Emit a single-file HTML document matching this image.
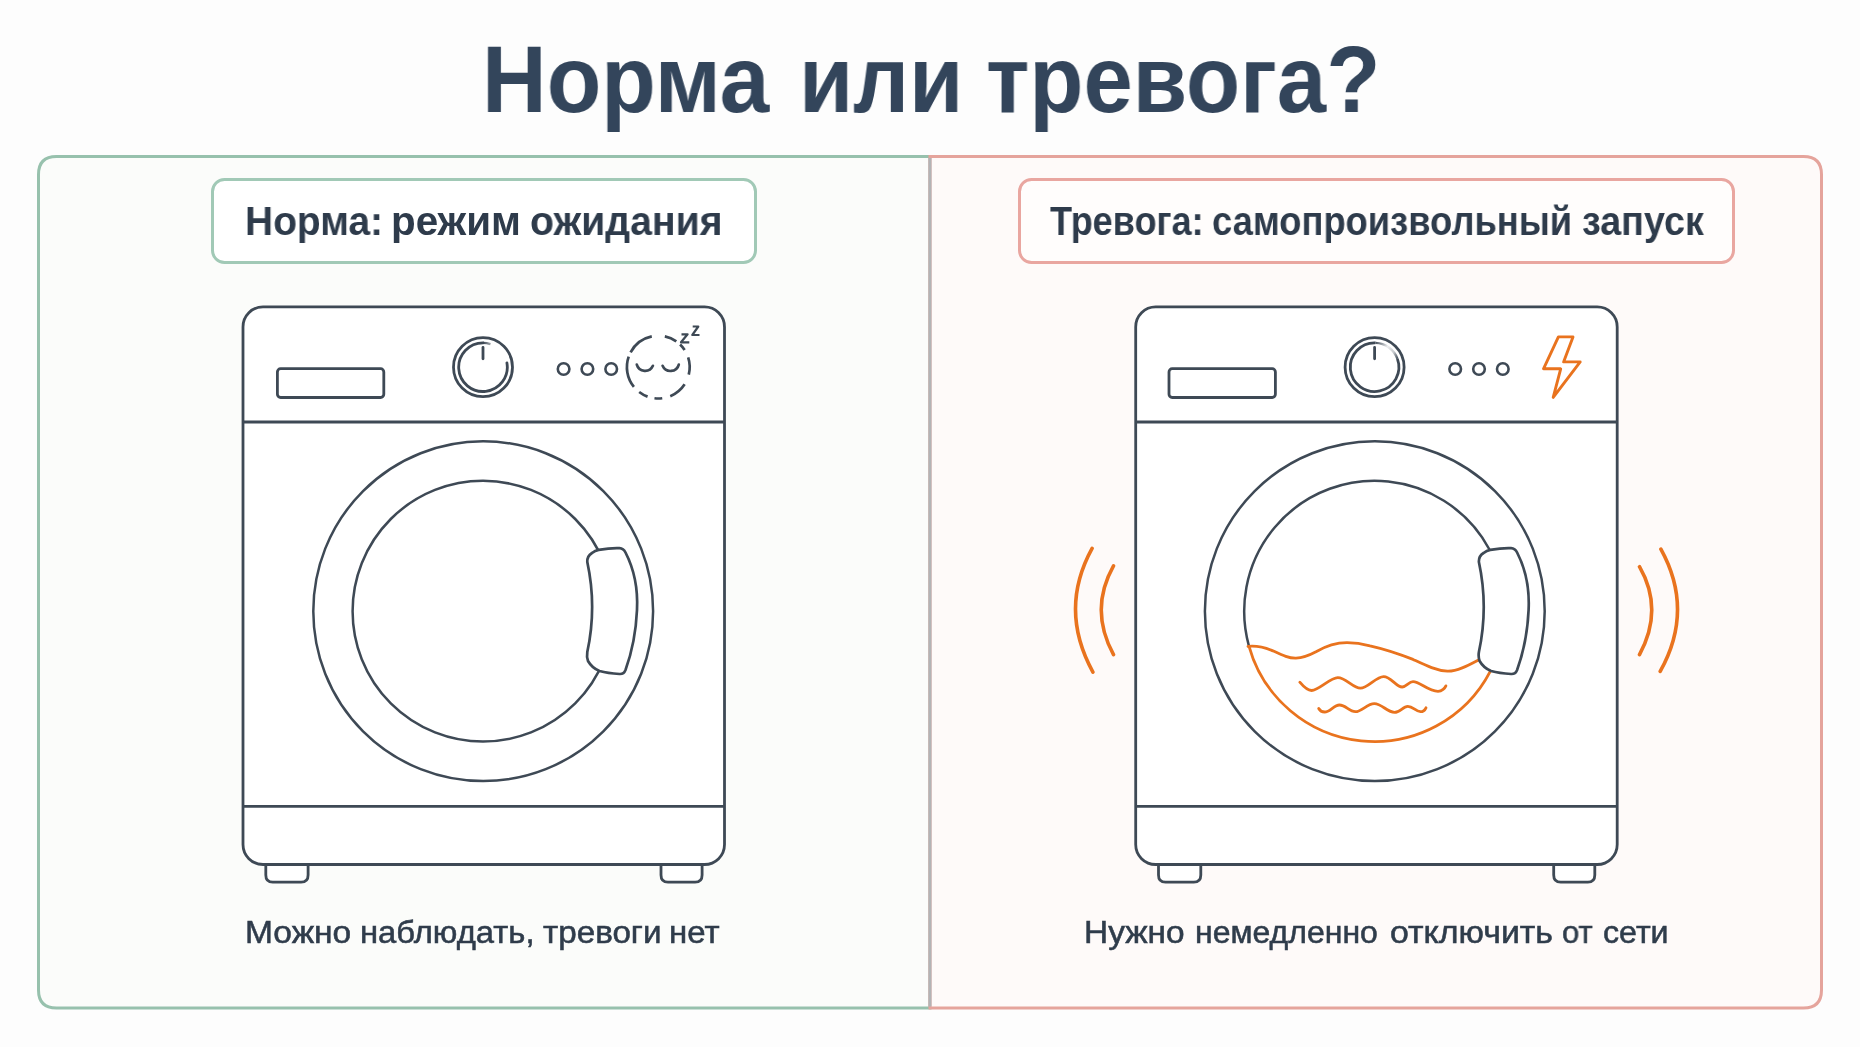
<!DOCTYPE html>
<html>
<head>
<meta charset="utf-8">
<style>
html,body{margin:0;padding:0;}
body{width:1860px;height:1047px;background:#fdfdfd;position:relative;overflow:hidden;font-family:"Liberation Sans",sans-serif;}
.abs{position:absolute;}
#title{left:0;width:1860px;top:34px;text-align:center;font-weight:700;font-size:94px;line-height:1;color:#33455b;white-space:nowrap;}
.tw{position:absolute;top:33.3px;font-weight:700;font-size:94px;line-height:1;color:#33455b;white-space:nowrap;transform-origin:0 0;will-change:transform;}
.lbl{position:absolute;top:201px;font-weight:700;font-size:40px;line-height:1;color:#2e3b4b;white-space:nowrap;transform-origin:0 0;will-change:transform;}
.cap{position:absolute;top:915.7px;font-weight:400;font-size:32px;line-height:1;color:#2f3c4b;white-space:nowrap;-webkit-text-stroke:0.55px #2f3c4b;transform-origin:0 0;will-change:transform;}
svg{position:absolute;left:0;top:0;}
</style>
</head>
<body>
<svg width="1860" height="1047" viewBox="0 0 1860 1047">
<defs>
<linearGradient id="fadeL" x1="483" y1="0" x2="498" y2="0" gradientUnits="userSpaceOnUse"><stop offset="0" stop-color="#3e4955"/><stop offset="1" stop-color="#3e4955" stop-opacity="0"/></linearGradient>
<linearGradient id="fadeR" gradientUnits="userSpaceOnUse" x1="1374.6" y1="343" x2="1397.6" y2="359"><stop offset="0" stop-color="#3e4955"/><stop offset="0.45" stop-color="#3e4955" stop-opacity="0.1"/><stop offset="0.75" stop-color="#3e4955" stop-opacity="0.3"/><stop offset="1" stop-color="#3e4955"/></linearGradient>
</defs>
<path d="M930 156.5 H56.5 Q38.5 156.5 38.5 174.5 V990 Q38.5 1008 56.5 1008 H930 Z" fill="#fbfcfa" stroke="#97c1ad" stroke-width="3"/>
<path d="M930 156.5 H1803.5 Q1821.5 156.5 1821.5 174.5 V990 Q1821.5 1008 1803.5 1008 H930 Z" fill="#fefaf9" stroke="#e5a49c" stroke-width="3"/>
<line x1="930" y1="158" x2="930" y2="1006.5" stroke="#b3b3b5" stroke-width="3"/>
<rect x="212.5" y="179.5" width="543" height="83" rx="12" fill="#ffffff" stroke="#a1c9b6" stroke-width="3"/>
<rect x="1019.5" y="179.5" width="714" height="83" rx="12" fill="#fffdfc" stroke="#e9a6a0" stroke-width="3"/>
<g transform="translate(0,0)">
<path d="M265.8 864.5 V875 Q265.8 882.2 272.8 882.2 H301.1 Q308.1 882.2 308.1 875 V864.5" fill="#ffffff" stroke="#3e4955" stroke-width="2.8"/>
<path d="M661 864.5 V875 Q661 882.2 668 882.2 H695.1 Q702.1 882.2 702.1 875 V864.5" fill="#ffffff" stroke="#3e4955" stroke-width="2.8"/>
<rect x="243.0" y="306.9" width="481.5" height="557.6" rx="20" fill="#ffffff" stroke="#3e4955" stroke-width="2.8"/>
<line x1="243" y1="422" x2="724.5" y2="422" stroke="#3e4955" stroke-width="2.8"/>
<line x1="243" y1="806.3" x2="724.5" y2="806.3" stroke="#3e4955" stroke-width="2.8"/>
</g>
<g transform="translate(0,0)">
<rect x="277.4" y="368.7" width="106.4" height="28.8" rx="3.2" fill="none" stroke="#3e4955" stroke-width="2.8"/>
<circle cx="483" cy="367.2" r="29.5" fill="none" stroke="#3e4955" stroke-width="2.8"/>
<line x1="483" y1="347.5" x2="483" y2="358.8" stroke="#3e4955" stroke-width="2.8" stroke-linecap="round"/>
<circle cx="563.6" cy="369" r="5.8" fill="none" stroke="#3e4955" stroke-width="2.6"/>
<circle cx="587.4" cy="369" r="5.8" fill="none" stroke="#3e4955" stroke-width="2.6"/>
<circle cx="611.2" cy="369" r="5.8" fill="none" stroke="#3e4955" stroke-width="2.6"/>
<circle cx="483.2" cy="611.2" r="169.9" fill="none" stroke="#3e4955" stroke-width="2.5"/>
</g>
<circle cx="483" cy="611.2" r="130.4" fill="none" stroke="#3e4955" stroke-width="2.5"/>
<path d="M598.7 549.8 C606 548.6 614 548 619.5 548.2 Q623.5 548.4 625.5 552.5 C634.5 570 638 590 637 610 C636 632 632 652 625.5 670 Q623.8 674.3 619.5 674 C612 673.5 605 672.5 599.5 671 Q592 668 588 661 Q586.5 657 587.3 652 Q597 607 587.3 562 Q587 556 592 553 Q595 550.5 598.7 549.8 Z" fill="#ffffff" stroke="#3e4955" stroke-width="2.7"/>
<path d="M483.0 342.9 A24.3 24.3 0 1 0 506.93 362.98" fill="none" stroke="#3e4955" stroke-width="2.8" stroke-linecap="round"/>
<path d="M483.0 342.9 A24.3 24.3 0 0 1 490.51 344.09" fill="none" stroke="url(#fadeL)" stroke-width="2.4"/>
<path d="M633.9 386.86 A31.4 31.4 0 0 1 628.7 356.62 M630.58 352.36 A31.4 31.4 0 0 1 651.77 336.39 M664.83 336.39 A31.4 31.4 0 0 1 676.31 341.38 M680.11 344.51 A31.4 31.4 0 0 1 684.63 350.0 M688.16 357.4 A31.4 31.4 0 0 1 688.77 374.7 M684.63 384.2 A31.4 31.4 0 0 1 670.27 396.13 M662.24 398.25 A31.4 31.4 0 0 1 654.47 398.27 M647.56 396.61 A31.4 31.4 0 0 1 639.18 392.01" fill="none" stroke="#3e4955" stroke-width="2.7"/>
<path d="M636.8 364.6 A8.6 8.6 0 0 0 652.9 365.8 M662.6 365.8 A8.6 8.6 0 0 0 678.8 364.6" fill="none" stroke="#3e4955" stroke-width="2.7" stroke-linecap="round"/>
<path d="M681.5 334.3 H687.6 L681 342.3 H689.3 M692.7 326.5 H698.3 L692.3 335 H699.5" fill="none" stroke="#3e4955" stroke-width="2.2" stroke-linejoin="round"/>
<g transform="translate(892.7,0)">
<path d="M265.8 864.5 V875 Q265.8 882.2 272.8 882.2 H301.1 Q308.1 882.2 308.1 875 V864.5" fill="#ffffff" stroke="#3e4955" stroke-width="2.8"/>
<path d="M661 864.5 V875 Q661 882.2 668 882.2 H695.1 Q702.1 882.2 702.1 875 V864.5" fill="#ffffff" stroke="#3e4955" stroke-width="2.8"/>
<rect x="243.0" y="306.9" width="481.5" height="557.6" rx="20" fill="#ffffff" stroke="#3e4955" stroke-width="2.8"/>
<line x1="243" y1="422" x2="724.5" y2="422" stroke="#3e4955" stroke-width="2.8"/>
<line x1="243" y1="806.3" x2="724.5" y2="806.3" stroke="#3e4955" stroke-width="2.8"/>
</g>
<g transform="translate(891.6,0)">
<rect x="277.4" y="368.7" width="106.4" height="28.8" rx="3.2" fill="none" stroke="#3e4955" stroke-width="2.8"/>
<circle cx="483" cy="367.2" r="29.5" fill="none" stroke="#3e4955" stroke-width="2.8"/>
<line x1="483" y1="347.5" x2="483" y2="358.8" stroke="#3e4955" stroke-width="2.8" stroke-linecap="round"/>
<circle cx="563.6" cy="369" r="5.8" fill="none" stroke="#3e4955" stroke-width="2.6"/>
<circle cx="587.4" cy="369" r="5.8" fill="none" stroke="#3e4955" stroke-width="2.6"/>
<circle cx="611.2" cy="369" r="5.8" fill="none" stroke="#3e4955" stroke-width="2.6"/>
<circle cx="483.2" cy="611.2" r="169.9" fill="none" stroke="#3e4955" stroke-width="2.5"/>
</g>
<path d="M1248.94 646.05 A130.4 130.4 0 1 1 1490.27 671.41" fill="none" stroke="#3e4955" stroke-width="2.5"/>
<path d="M1248.94 646.05 A130.4 130.4 0 0 0 1490.27 671.41" fill="none" stroke="#e9731e" stroke-width="2.8"/>
<path d="M1248 646.4 C1256 645.5 1264 647 1274 651.3 C1283 655.5 1289 658.3 1296 658.1 C1304 658 1310 655 1316 651.8 C1325 646.5 1335 642.7 1347 642.7 C1357 642.7 1363 644 1370 645.8 C1382 648.5 1397 653 1413 659.4 C1425 665 1436 670.5 1447.4 671.2 C1457 671.5 1468 665.5 1479.5 659.4" fill="none" stroke="#e9731e" stroke-width="2.8" stroke-linecap="round"/>
<path d="M1299.8 682.2 C1303 686 1307 690.5 1311.5 690.5 C1319 690.5 1330 677.7 1337.8 677.7 C1346 677.7 1353 688.2 1360.4 688.2 C1368 688.2 1376 676.6 1383.6 676.6 C1391 676.6 1396 687 1402.2 687 C1406 687 1409 681.6 1413 681.6 C1420 681.6 1428 691.3 1438 691.3 C1442 691.3 1445 688 1445.9 685.9" fill="none" stroke="#e9731e" stroke-width="2.8" stroke-linecap="round"/>
<path d="M1318.7 708.5 C1320 711 1322 712 1324.7 712 C1330 712 1334 705 1339.4 705 C1346 705 1349 711.7 1355.4 711.7 C1362 711.7 1367 703.6 1374.3 703.6 C1382 703.6 1387 712.4 1394.6 712.4 C1400 712.4 1403 706.4 1407.8 706.4 C1413 706.4 1416 711.7 1420.4 711.7 C1423 711.7 1425 710 1426 707.8" fill="none" stroke="#e9731e" stroke-width="2.8" stroke-linecap="round"/>
<path transform="translate(891.6,0)" d="M598.7 549.8 C606 548.6 614 548 619.5 548.2 Q623.5 548.4 625.5 552.5 C634.5 570 638 590 637 610 C636 632 632 652 625.5 670 Q623.8 674.3 619.5 674 C612 673.5 605 672.5 599.5 671 Q592 668 588 661 Q586.5 657 587.3 652 Q597 607 587.3 562 Q587 556 592 553 Q595 550.5 598.7 549.8 Z" fill="#ffffff" stroke="#3e4955" stroke-width="2.7"/>
<path d="M1397.43 358.89 A24.3 24.3 0 1 1 1375.45 342.91" fill="none" stroke="#3e4955" stroke-width="2.8"/>
<path d="M1375.45 342.91 A24.3 24.3 0 0 1 1397.43 358.89" fill="none" stroke="url(#fadeR)" stroke-width="2.4"/>
<path d="M1558.4 336.9 H1573 L1563.6 361.9 H1580.2 L1553.2 397.4 L1560.7 368.8 H1543.5 Z" fill="none" stroke="#e9731e" stroke-width="2.9" stroke-linejoin="round"/>
<path d="M1092.1 548.3 Q1058.5 609.5 1092.9 672.1 M1113.5 565.9 Q1089 609.5 1113.5 654.6 M1639.5 566.7 Q1664 609.5 1639.5 654.6 M1660.9 549.1 Q1694.5 610 1660.2 671.4" fill="none" stroke="#e9731e" stroke-width="3.6" stroke-linecap="round"/>
</svg>
<div class="tw" style="left:481.6px;transform:scaleX(0.9515)">Норма</div><div class="tw" style="left:798.7px;transform:scaleX(0.937)">или</div><div class="tw" style="left:986.4px;transform:scaleX(0.942)">тревога?</div>
<div class="lbl" style="left:245.08px;transform:scaleX(0.9733)">Норма:</div>
<div class="lbl" style="left:391.37px;transform:scaleX(1.0098)">режим</div>
<div class="lbl" style="left:530.04px;transform:scaleX(0.9792)">ожидания</div>
<div class="lbl" style="left:1049.50px;transform:scaleX(0.9018)">Тревога:</div>
<div class="lbl" style="left:1211.88px;transform:scaleX(0.9084)">самопроизвольный</div>
<div class="lbl" style="left:1581.86px;transform:scaleX(0.9422)">запуск</div>
<div class="cap" style="left:244.60px;transform:scaleX(1.0490)">Можно</div>
<div class="cap" style="left:359.55px;transform:scaleX(1.0247)">наблюдать,</div>
<div class="cap" style="left:543.20px;transform:scaleX(1.0375)">тревоги</div>
<div class="cap" style="left:669.44px;transform:scaleX(1.0298)">нет</div>
<div class="cap" style="left:1084.01px;transform:scaleX(1.0441)">Нужно</div>
<div class="cap" style="left:1194.90px;transform:scaleX(0.9989)">немедленно</div>
<div class="cap" style="left:1389.74px;transform:scaleX(1.0586)">отключить</div>
<div class="cap" style="left:1562.33px;transform:scaleX(0.9677)">от</div>
<div class="cap" style="left:1603.20px;transform:scaleX(1.0048)">сети</div>
</body>
</html>
